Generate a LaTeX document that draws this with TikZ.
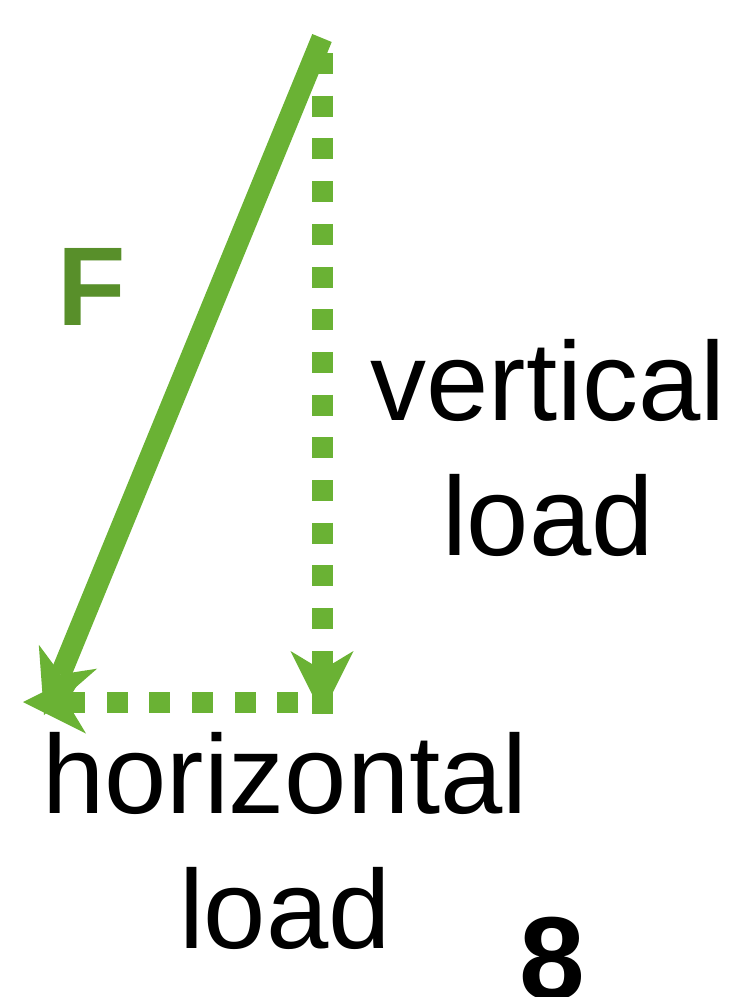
\documentclass[tikz,border=0pt]{standalone}
\usepackage{fontspec}
\setmainfont{Liberation Sans}
\usetikzlibrary{arrows.meta}
\definecolor{vecgreen}{RGB}{106,178,52}
\definecolor{fgreen}{RGB}{88,143,42}
\begin{document}
\begin{tikzpicture}[x=1pt,y=-1pt,
  vec/.style={draw=vecgreen, line width=21pt, line cap=butt},
  dotted vec/.style={vec, dash pattern=on 21pt off 21.7pt},
  tipstyle/.style={-{Stealth[length=63pt,width=63pt,inset=19pt,line width=0pt]}},
  lbl/.style={inner sep=0pt, align=center, font=\fontsize{112}{135}\selectfont}]
\useasboundingbox (0,0) rectangle (732,997);
% coordinates
\coordinate (ftop) at (322,38);
\coordinate (ftip) at (44,715);
\coordinate (vtop) at (322,53);
\coordinate (vtip) at (322,714);
\coordinate (vtipb) at (322,694);
\coordinate (hstart) at (320,702);
\coordinate (htip) at (23,702);
% vertical load (dotted)
\draw[dotted vec] (vtop) -- (vtip);
\draw[vec, tipstyle] (vtipb) -- (vtip);
% horizontal load (dotted)
\draw[dotted vec, dash phase=21pt, tipstyle] (hstart) -- (htip);
% resultant F
\draw[vec, tipstyle] (ftop) -- (ftip);
% labels
\node[inner sep=0pt, anchor=base west, text=fgreen, font=\fontsize{112}{135}\selectfont\bfseries] (F) at (57,325) {F};
\node[lbl, anchor=north] (vl) at (548,339) {vertical\\load};
\node[lbl, anchor=north] (hl) at (285,732) {horizontal\\load};
\node[inner sep=0pt, anchor=base, font=\fontsize{118}{140}\selectfont\bfseries] (num) at (552,999) {8};
\end{tikzpicture}
\end{document}
